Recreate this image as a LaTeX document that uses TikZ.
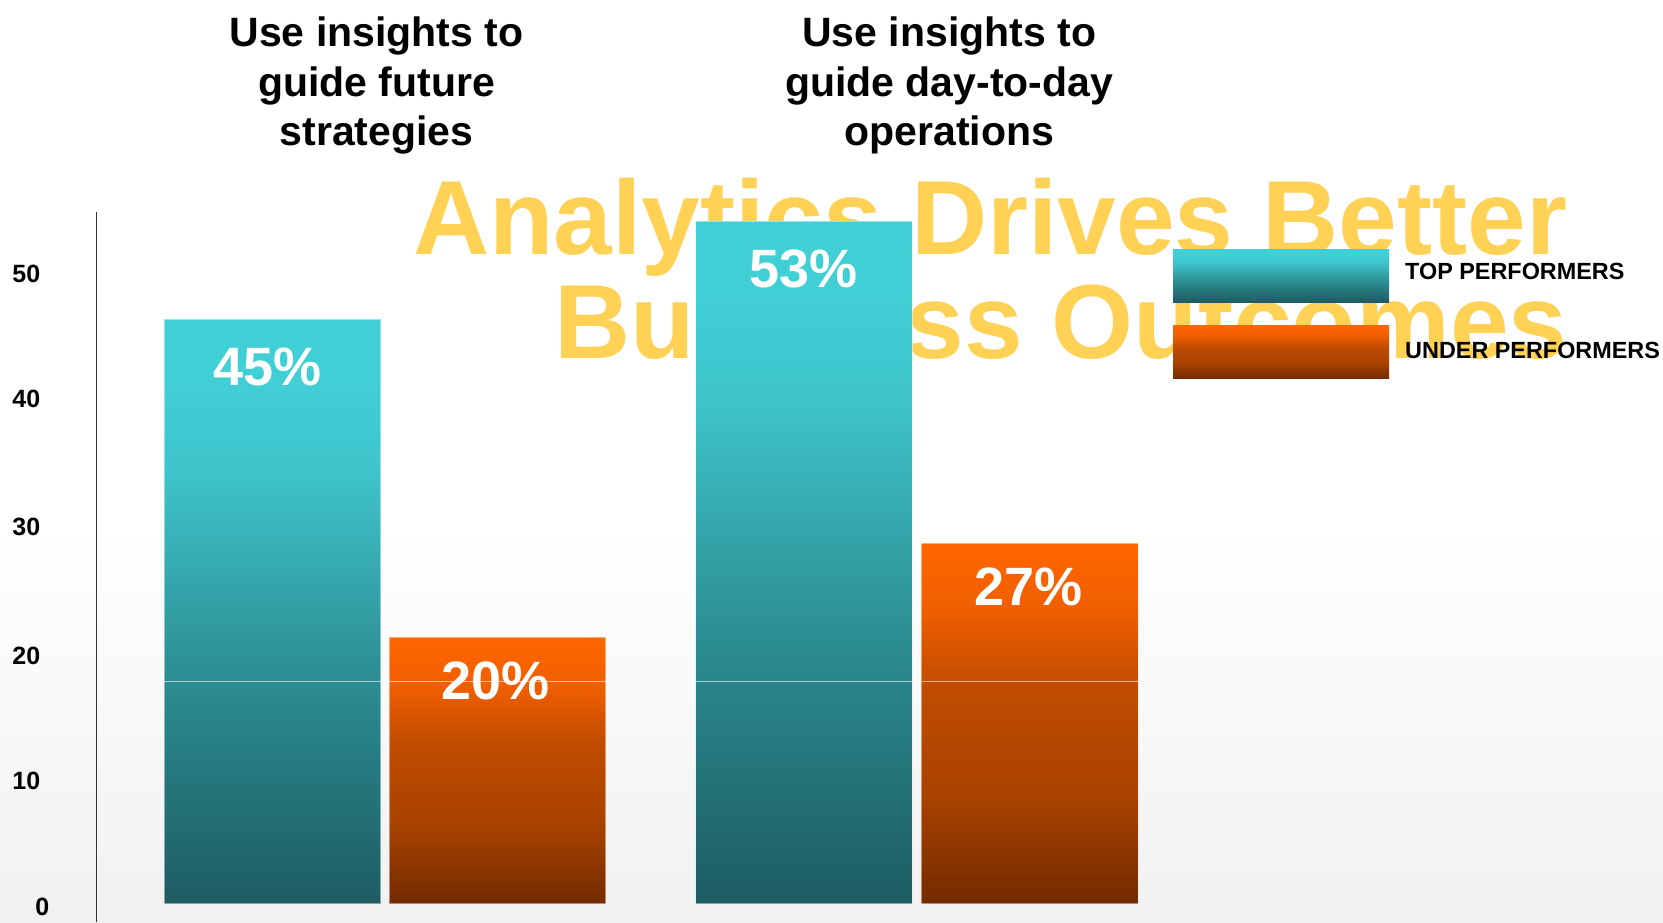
\documentclass[tikz,border=0pt]{standalone}
\usepackage{fontspec}
\setmainfont{Liberation Sans}
\definecolor{tealtop}{HTML}{41CFD6}
\definecolor{tealup}{HTML}{3EC4CB}
\definecolor{tealmid}{HTML}{2C8F93}
\definecolor{tealbot}{HTML}{1D5C62}
\definecolor{orgtop}{HTML}{FF6600}
\definecolor{orgup}{HTML}{F05F00}
\definecolor{orgmid}{HTML}{C04C00}
\definecolor{orgbot}{HTML}{732B00}
\definecolor{bigyellow}{HTML}{FFD155}
\definecolor{bggray}{HTML}{F1F1F1}
\definecolor{axisgray}{HTML}{333333}
\pgfdeclareverticalshading{tealsh}{100bp}{color(0bp)=(tealbot); color(25bp)=(tealbot); color(45bp)=(tealmid); color(62bp)=(tealup); color(70bp)=(tealtop); color(100bp)=(tealtop)}
\pgfdeclareverticalshading{orgsh}{100bp}{color(0bp)=(orgbot); color(25bp)=(orgbot); color(40bp)=(orgmid!70!orgbot); color(55bp)=(orgmid); color(66bp)=(orgup); color(75bp)=(orgtop); color(100bp)=(orgtop)}
\pgfdeclareverticalshading{bgsh}{100bp}{color(0bp)=(bggray); color(25bp)=(bggray); color(75bp)=(white); color(100bp)=(white)}
\begin{document}
\begin{tikzpicture}[x=1pt,y=-1pt,
  tick/.style={font=\fontsize{25}{30}\selectfont\bfseries, anchor=base east, inner sep=0pt},
  pct/.style={font=\fontsize{54}{60}\selectfont\bfseries, text=white, anchor=base, inner sep=0pt},
  ttl/.style={font=\fontsize{41}{49}\selectfont\bfseries, anchor=base, inner sep=0pt},
  leg/.style={font=\fontsize{23.4}{28}\selectfont\bfseries, anchor=base west, inner sep=0pt},
  big/.style={font=\fontsize{105.4}{120}\selectfont\bfseries, text=bigyellow, anchor=base east, inner sep=0pt},
  tealbar/.style={shading=tealsh, draw=white, draw opacity=0.45, line width=0.8pt},
  orgbar/.style={shading=orgsh, draw=white, draw opacity=0.45, line width=0.8pt}]
\useasboundingbox (0,0) rectangle (1663,922);
\fill[white] (0,0) rectangle (1663,922);
\shade[shading=bgsh] (0,520) rectangle (1663,922);
% big title (behind)
\node[big] (bigA) at (1567.6,254.5) {Analytics Drives Better};
\node[big] (bigB) at (1567.6,358.5) {Business Outcomes};
% axis
\draw[axisgray, line width=1.5pt] (96.5,212) -- (96.5,922);
% ticks
\node[tick] (y50) at (40.5,282.6) {50};
\node[tick] (y40) at (40.5,407.8) {40};
\node[tick] (y30) at (40.5,535) {30};
\node[tick] (y20) at (40.5,664.5) {20};
\node[tick] (y10) at (40.5,789.6) {10};
\node[tick] (y0) at (49.5,915.8) {0};
% bars
\path[tealbar] (164.4,319.2) rectangle (380.8,903.6);
\path[orgbar] (389.2,637.4) rectangle (605.6,903.6);
\path[tealbar] (695.8,221.7) rectangle (912.1,903.6);
\path[orgbar] (921.6,543) rectangle (1138,903.6);
% grid line
\draw[white, opacity=0.6, line width=0.8pt] (164.4,681) -- (380.8,681) (389.2,681) -- (605.6,681) (695.8,681) -- (912.1,681) (921.6,681) -- (1138,681);
% value labels
\node[pct] (p45) at (267.3,385.2) {45\%};
\node[pct] (p20) at (495.3,699.1) {20\%};
\node[pct] (p53) at (803.9,287.6) {53\%};
\node[pct] (p27) at (1028.8,605.8) {27\%};
% legend
\path[tealbar, draw opacity=0] (1173,249) rectangle (1389,302);
\path[orgbar, draw opacity=0] (1173,325.6) rectangle (1389,378.6);
\node[leg] (lTop) at (1405,279.9) {TOP PERFORMERS};
\node[leg] (lUnder) at (1405,358.4) {UNDER PERFORMERS};
% column titles
\node[ttl] (t1a) at (376.5,46.5) {Use insights to};
\node[ttl] (t1b) at (376.5,96.4) {guide future};
\node[ttl] (t1c) at (376.5,145.2) {strategies};
\node[ttl] (t2a) at (949.2,46.5) {Use insights to};
\node[ttl] (t2b) at (949.2,96.4) {guide day-to-day};
\node[ttl] (t2c) at (949.2,145.2) {operations};
\end{tikzpicture}
\end{document}
